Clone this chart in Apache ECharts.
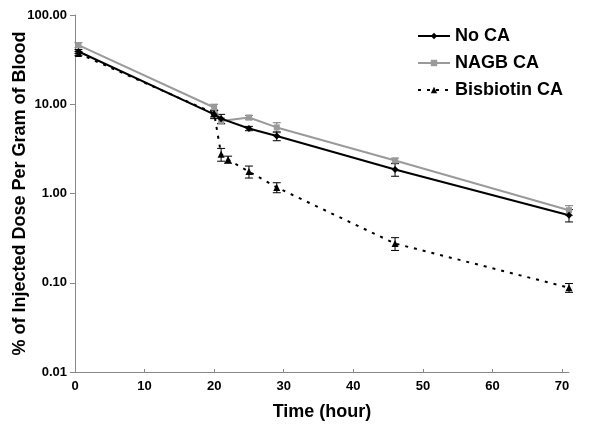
<!DOCTYPE html>
<html>
<head>
<meta charset="utf-8">
<script src="https://cdn.jsdelivr.net/npm/echarts@6/dist/echarts.min.js"></script>
<style>html,body{margin:0;padding:0;background:#fff}#c{width:600px;height:433px}</style>
</head>
<body>
<div id="c"></div>
<script>
// Data
var timesNoCA = [0.5, 20, 21, 25, 29, 46, 71];
var noCA      = [39, 7.7, 6.9, 5.35, 4.4, 1.86, 0.57];
var noCAErr   = [2, 0.8, 0.8, 0.3, 0.5, 0.3, 0.09];

var timesNAGB = [0.5, 20, 21, 25, 29, 46, 71];
var nagb      = [46, 9.2, 6.5, 7.1, 5.5, 2.34, 0.65];
var nagbErr   = [3, 0.8, 0.5, 0.4, 0.7, 0.15, 0.08];

var timesBis  = [0.5, 20, 21, 22, 25, 29, 46, 71];
var bis       = [37, 7.9, 2.75, 2.4, 1.76, 1.17, 0.275, 0.088];
var bisErr    = [2, 0.7, 0.45, 0.22, 0.27, 0.15, 0.045, 0.01];

var xTicks = [0, 10, 20, 30, 40, 50, 60, 70];
var seriesNames = ['No CA', 'NAGB CA', 'Bisbiotin CA'];

function pts(t, v) { return t.map(function (x, i) { return [x, v[i]]; }); }
function errs(t, v, e) { return t.map(function (x, i) { return [x, v[i] - e[i], v[i] + e[i]]; }); }

function errRender(color) {
  return function (params, api) {
    var x = api.value(0);
    var lo = api.coord([x, api.value(1)]);
    var hi = api.coord([x, api.value(2)]);
    var w = 4;
    var st = { stroke: color, lineWidth: 1 };
    return {
      type: 'group',
      children: [
        { type: 'line', shape: { x1: lo[0], y1: lo[1], x2: hi[0], y2: hi[1] }, style: st },
        { type: 'line', shape: { x1: lo[0] - w, y1: lo[1], x2: lo[0] + w, y2: lo[1] }, style: st },
        { type: 'line', shape: { x1: hi[0] - w, y1: hi[1], x2: hi[0] + w, y2: hi[1] }, style: st }
      ]
    };
  };
}

var font = 'Liberation Sans, Arial, sans-serif';
var chart = echarts.init(document.getElementById('c'), null, { renderer: 'canvas' });
chart.setOption({
  animation: false,
  backgroundColor: '#fff',
  grid: { left: 75, right: 31, top: 15, bottom: 61, containLabel: false, outerBoundsMode: 'none' },
  legend: {
    data: seriesNames,
    orient: 'vertical',
    left: 412, top: 22,
    itemWidth: 32, itemHeight: 8, itemGap: 9,
    textStyle: { fontFamily: font, fontWeight: 'bold', fontSize: 18, color: '#000' }
  },
  xAxis: {
    type: 'value', min: 0, max: 71,
    name: 'Time (hour)', nameLocation: 'middle', nameGap: 31, nameMoveOverlap: false,
    nameTextStyle: { fontFamily: font, fontWeight: 'bold', fontSize: 18, color: '#000' },
    axisLine: { lineStyle: { color: '#888', width: 1 } },
    axisTick: { inside: true, length: 3, customValues: xTicks, lineStyle: { color: '#888' } },
    axisLabel: { customValues: xTicks, fontFamily: font, fontWeight: 'bold', fontSize: 13, color: '#000', margin: 8 },
    splitLine: { show: false }
  },
  yAxis: {
    type: 'log', logBase: 10, min: 0.01, max: 100,
    name: '% of Injected Dose Per Gram of Blood', nameLocation: 'middle', nameGap: 46, nameMoveOverlap: false,
    nameTextStyle: { fontFamily: font, fontWeight: 'bold', fontSize: 18, color: '#000' },
    axisLine: { show: true, lineStyle: { color: '#888', width: 1 } },
    axisTick: { show: true, length: 5, lineStyle: { color: '#888' } },
    axisLabel: {
      fontFamily: font, fontWeight: 'bold', fontSize: 13, color: '#000', margin: 8,
      formatter: function (v) { return Number(v).toFixed(2); }
    },
    splitLine: { show: false },
    minorTick: { show: false }
  },
  series: [
    {
      name: 'NAGB CA', type: 'line', data: pts(timesNAGB, nagb),
      symbol: 'rect', symbolSize: 6,
      lineStyle: { color: '#9a9a9a', width: 2 },
      itemStyle: { color: '#9a9a9a' }, z: 3
    },
    {
      name: 'No CA', type: 'line', data: pts(timesNoCA, noCA),
      symbol: 'diamond', symbolSize: 7,
      lineStyle: { color: '#000', width: 2 },
      itemStyle: { color: '#000' }, z: 4
    },
    {
      name: 'Bisbiotin CA', type: 'line', data: pts(timesBis, bis),
      symbol: 'triangle', symbolSize: 7,
      lineStyle: { color: '#000', width: 2, type: [3, 6] },
      itemStyle: { color: '#000' }, z: 4
    },
    {
      name: 'errNAGB', type: 'custom', data: errs(timesNAGB, nagb, nagbErr),
      renderItem: errRender('#777'), encode: { x: 0, y: [1, 2] }, z: 2
    },
    {
      name: 'errNoCA', type: 'custom', data: errs(timesNoCA, noCA, noCAErr),
      renderItem: errRender('#000'), encode: { x: 0, y: [1, 2] }, z: 2
    },
    {
      name: 'errBis', type: 'custom', data: errs(timesBis, bis, bisErr),
      renderItem: errRender('#000'), encode: { x: 0, y: [1, 2] }, z: 2
    }
  ]
});
</script>
</body>
</html>
